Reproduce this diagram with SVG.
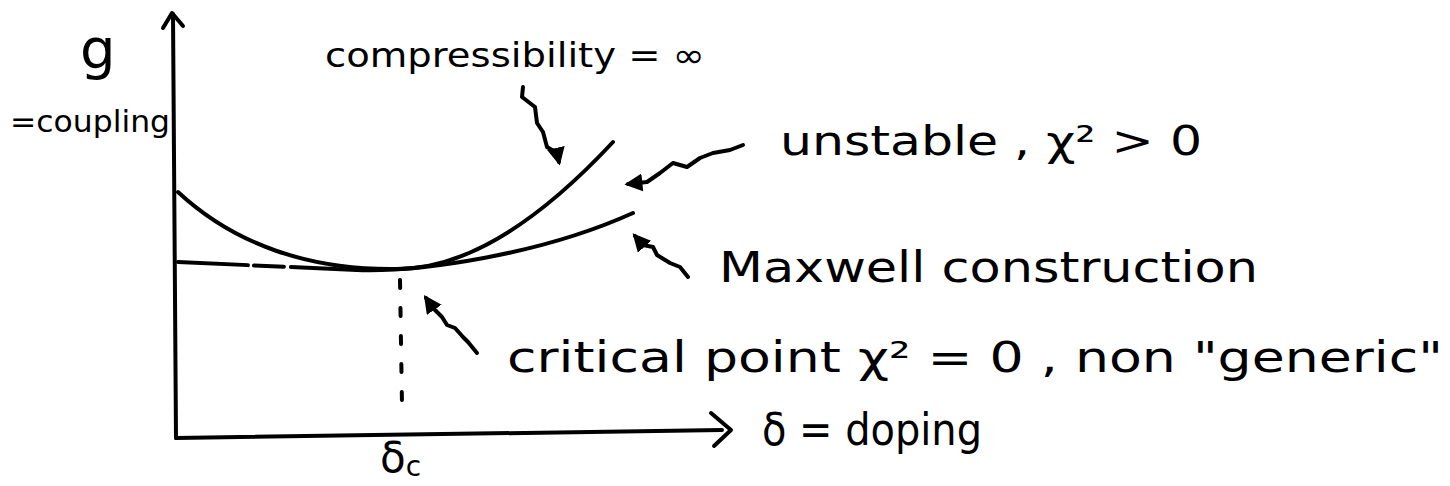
<svg xmlns="http://www.w3.org/2000/svg" width="1450" height="486" viewBox="0 0 1450 486">
<style>
.ln{fill:none;stroke:#000;stroke-width:4;stroke-linecap:round;stroke-linejoin:round}
.sq{fill:none;stroke:#000;stroke-width:4;stroke-linecap:round;stroke-linejoin:round}
.t{font-family:"DejaVu Sans","Liberation Sans",sans-serif;fill:#000}
</style>
<defs>
<marker id="tri" viewBox="0 0 10 10" refX="8" refY="5" markerWidth="4.5" markerHeight="4.5" orient="auto" markerUnits="strokeWidth">
<path d="M0,0 L10,5 L0,10 z" fill="#000"/>
</marker>
</defs>
<rect width="1450" height="486" fill="#fff"/>
<g id="axes">
<path class="ln" d="M176,438 L173,14"/>
<path class="ln" d="M163,28 L172,13 L183,26"/>
<path class="ln" d="M176,438 L722,430"/>
<path class="ln" d="M711,413 L731,430 L714,446"/>
</g>
<g id="curve-unstable">
<path class="ln" d="M178,192 C235,245 310,270 395,269 C470,270 545,215 613,142"/>
</g>
<g id="curve-maxwell">
<path class="ln" d="M178,262 L357,270" stroke-dasharray="70 6 30 7 70"/>
<path class="ln" d="M357,270 C420,272 540,255 633,213"/>
</g>
<g id="critical-line">
<path class="ln" d="M400,280 L402,405" stroke-dasharray="8 20"/>
</g>
<g id="label-g">
<text class="t" x="80" y="68" font-size="56">g</text>
<text class="t" x="10" y="132" font-size="30" textLength="160" lengthAdjust="spacingAndGlyphs">=coupling</text>
</g>
<g id="label-compressibility">
<text class="t" x="325" y="67" font-size="34" textLength="380" lengthAdjust="spacingAndGlyphs">compressibility = ∞</text>
</g>
<g id="label-unstable">
<text class="t" x="780" y="155" font-size="40" textLength="422" lengthAdjust="spacingAndGlyphs">unstable , χ² &gt; 0</text>
</g>
<g id="label-maxwell">
<text class="t" x="719" y="282" font-size="42" textLength="539" lengthAdjust="spacingAndGlyphs">Maxwell construction</text>
</g>
<g id="label-critical">
<text class="t" x="507" y="372" font-size="42" textLength="936" lengthAdjust="spacingAndGlyphs">critical point χ² = 0 , non "generic"</text>
</g>
<g id="label-doping">
<text class="t" x="762" y="445" font-size="44" textLength="220" lengthAdjust="spacingAndGlyphs">δ = doping</text>
</g>
<g id="label-deltac">
<text class="t" x="380" y="472" font-size="42">δ<tspan font-size="28" dy="4">c</tspan></text>
</g>
<g id="connectors">
<path class="sq" marker-end="url(#tri)" d="M523,87 L522,97 L535,107 L537,123 L543,132 L547,147 L557,153 L559,162"/>
<path class="sq" marker-end="url(#tri)" d="M743,145 L730,150 L713,153 L700,158 L687,167 L673,163 L660,173 L647,182 L628,184"/>
<path class="sq" marker-end="url(#tri)" d="M688,277 L680,267 L670,263 L657,255 L653,247 L643,245 L635,236"/>
<path class="sq" marker-end="url(#tri)" d="M477,353 L468,342 L463,337 L455,328 L447,325 L442,317 L433,308 L426,298"/>
</g>
</svg>
